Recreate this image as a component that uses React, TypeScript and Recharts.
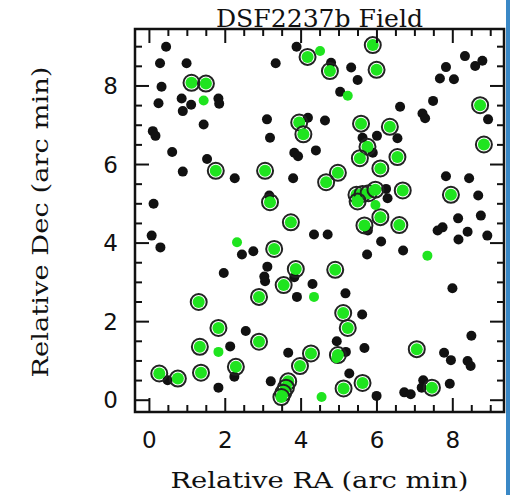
import { ScatterChart, Scatter, XAxis, YAxis, Label } from 'recharts';

const W = 510;
const H = 495;
const PLOT_TOP = 29;
const PLOT_RIGHT = 504;

const X_DOMAIN = [-0.38, 9.35];
const Y_DOMAIN = [-0.3, 9.45];
const xTicks = [0, 0.5, 1, 1.5, 2, 2.5, 3, 3.5, 4, 4.5, 5, 5.5, 6, 6.5, 7, 7.5, 8, 8.5, 9];
const yTicks = [0, 0.5, 1, 1.5, 2, 2.5, 3, 3.5, 4, 4.5, 5, 5.5, 6, 6.5, 7, 7.5, 8, 8.5, 9];
const majorTicks = [0, 2, 4, 6, 8];

const title = 'DSF2237b Field';
const xLabel = 'Relative RA (arc min)';
const yLabel = 'Relative Dec (arc min)';

// plain black sources
const blackDots = [
  [0.44, 9.0], [0.28, 8.58], [0.98, 8.58], [0.32, 7.98], [0.24, 7.56], [0.85, 7.68], [1.1, 7.52],
  [0.88, 7.36], [1.82, 7.68], [1.84, 7.55], [1.43, 7.02], [0.09, 6.85], [0.16, 6.73], [0.6, 6.32],
  [1.52, 6.14], [3.33, 8.58], [3.88, 9.0], [3.1, 7.15], [3.18, 6.68], [4.18, 7.19], [3.82, 6.3],
  [3.92, 6.21], [4.39, 6.36], [4.79, 8.59], [5.32, 8.47], [5.49, 8.15], [5.03, 7.85], [8.32, 8.76],
  [8.59, 8.51], [8.78, 8.64], [7.82, 8.48], [7.66, 8.19], [8.03, 8.17], [7.48, 7.62], [8.93, 7.15],
  [7.2, 7.3], [7.27, 7.18], [6.61, 7.47], [6.54, 6.67], [6.0, 6.73], [5.62, 6.68], [5.89, 6.3],
  [4.63, 7.12], [0.88, 5.82], [2.25, 5.65], [3.79, 5.65], [0.11, 5.0], [3.16, 5.21], [4.34, 4.22],
  [0.06, 4.19], [0.29, 3.89], [2.44, 3.71], [2.74, 3.79], [3.11, 3.4], [3.03, 3.15], [3.05, 3.03],
  [1.96, 3.24], [3.82, 3.13], [4.3, 2.96], [6.24, 5.38], [6.28, 5.14], [5.76, 4.32], [6.11, 4.04],
  [6.69, 3.81], [5.74, 3.71], [7.82, 5.7], [8.43, 5.65], [8.67, 5.21], [8.74, 4.7], [8.14, 4.63],
  [7.73, 4.4], [7.6, 4.32], [8.39, 4.29], [8.15, 4.09], [8.91, 4.19], [4.7, 4.22], [7.99, 2.85],
  [3.89, 2.63], [2.54, 1.76], [2.13, 1.37], [3.66, 1.21], [2.24, 0.6], [0.48, 0.51], [1.82, 0.32],
  [3.2, 0.48], [5.17, 2.72], [5.61, 2.18], [5.67, 1.33], [4.94, 1.5], [5.18, 1.23], [7.77, 1.21],
  [7.95, 1.02], [8.39, 1.0], [8.47, 0.87], [8.49, 1.64], [5.27, 0.68], [5.99, 0.11], [6.72, 0.2],
  [6.89, 0.15], [7.22, 0.51], [7.18, 0.32], [7.92, 0.42],
];

// green sources with black circle
const ringedDots = [
  [1.11, 8.08], [1.49, 8.06], [4.17, 8.74], [3.95, 7.07], [4.06, 6.77], [5.89, 9.04], [4.76, 8.38],
  [5.99, 8.41], [8.72, 7.51], [6.34, 6.96], [5.58, 7.04], [5.75, 6.45], [5.55, 6.16], [6.54, 6.19],
  [8.82, 6.51], [1.75, 5.84], [3.05, 5.84], [4.66, 5.55], [3.18, 5.04], [3.73, 4.53], [3.29, 3.85],
  [3.86, 3.34], [3.54, 2.93], [6.09, 5.9], [4.97, 5.79], [6.68, 5.34], [7.95, 5.23], [5.46, 5.23],
  [5.62, 5.25], [5.78, 5.27], [5.96, 5.36], [5.49, 5.06], [6.09, 4.66], [5.67, 4.45], [6.59, 4.46],
  [4.9, 3.32], [1.3, 2.5], [2.89, 2.63], [1.82, 1.84], [2.89, 1.49], [1.33, 1.36], [4.26, 1.19],
  [3.97, 0.87], [2.28, 0.85], [1.36, 0.7], [0.26, 0.68], [0.75, 0.55], [3.66, 0.48], [3.6, 0.32],
  [3.53, 0.19], [3.48, 0.08], [5.11, 2.22], [5.23, 1.84], [4.97, 1.15], [7.05, 1.3], [5.62, 0.44],
  [5.12, 0.3], [7.45, 0.32],
];

// green sources without circle
const greenDots = [
  [1.43, 7.63], [4.5, 8.89], [5.23, 7.75], [2.31, 4.02], [5.96, 4.97], [7.33, 3.68], [4.34, 2.63],
  [1.82, 1.23], [4.54, 0.08], [4.93, 1.07],
];

const toPoints = (list: number[][]) => list.map(([x, y]) => ({ x, y }));

const GREEN = '#1fe41f';
const INK = '#111';

const BlackDot = (p: any) => <circle cx={p.cx} cy={p.cy} r={5} fill={INK} />;
const GreenDot = (p: any) => <circle cx={p.cx} cy={p.cy} r={5} fill={GREEN} />;
const RingedDot = (p: any) => (
  <g>
    <circle cx={p.cx} cy={p.cy} r={8} fill="none" stroke="#222" strokeWidth={2} />
    <circle cx={p.cx} cy={p.cy} r={6} fill={GREEN} />
  </g>
);

// inward ticks on both opposite sides of the box, labels only on bottom/left
function XTick(props: any) {
  const { x, y, payload } = props;
  const major = majorTicks.includes(payload.value);
  const len = major ? 14 : 7;
  return (
    <g>
      <line x1={x} y1={y} x2={x} y2={y - len} stroke={INK} strokeWidth={2} />
      <line x1={x} y1={PLOT_TOP} x2={x} y2={PLOT_TOP + len} stroke={INK} strokeWidth={2} />
      {major && (
        <text x={x} y={y + 36} textAnchor="middle" fontFamily="DejaVu Sans" fontSize={23} fill={INK}>
          {payload.value}
        </text>
      )}
    </g>
  );
}

function YTick(props: any) {
  const { x, y, payload } = props;
  const major = majorTicks.includes(payload.value);
  const len = major ? 14 : 7;
  return (
    <g>
      <line x1={x} y1={y} x2={x + len} y2={y} stroke={INK} strokeWidth={2} />
      <line x1={PLOT_RIGHT} y1={y} x2={PLOT_RIGHT - len} y2={y} stroke={INK} strokeWidth={2} />
      {major && (
        <text x={x - 17} y={y + 8} textAnchor="end" fontFamily="DejaVu Sans" fontSize={23} fill={INK}>
          {payload.value}
        </text>
      )}
    </g>
  );
}

export default function App() {
  return (
    <div style={{ position: 'relative', width: W, height: H, background: '#fff' }}>
      <style>{'body{margin:0}'}</style>
      <ScatterChart width={W} height={H} margin={{ top: PLOT_TOP, right: W - PLOT_RIGHT, bottom: 0, left: 0 }}>
        <XAxis
          xAxisId="b"
          type="number"
          dataKey="x"
          domain={X_DOMAIN}
          allowDataOverflow
          ticks={xTicks}
          interval={0}
          height={83}
          tickSize={0}
          tickMargin={0}
          tickLine={false}
          axisLine={false}
          tick={XTick}
        >
          <Label
            content={(lp: any) => {
              const vb = lp.viewBox || { x: 135, y: 412, width: 369 };
              return (
                <g>
                  <rect x={vb.x} y={PLOT_TOP} width={vb.width} height={vb.y - PLOT_TOP}
                    fill="none" stroke={INK} strokeWidth={2.5} />
                  <text x={vb.x + vb.width / 2} y={488} textAnchor="middle" fontFamily="DejaVu Serif" fontSize={22}
                    textLength={298} lengthAdjust="spacingAndGlyphs" fill={INK}>
                    {xLabel}
                  </text>
                  <text x={vb.x + vb.width / 2} y={27} textAnchor="middle" fontFamily="DejaVu Serif" fontSize={24}
                    textLength={207} lengthAdjust="spacingAndGlyphs" fill={INK}>
                    {title}
                  </text>
                </g>
              );
            }}
          />
        </XAxis>
        <YAxis
          yAxisId="l"
          type="number"
          dataKey="y"
          domain={Y_DOMAIN}
          allowDataOverflow
          ticks={yTicks}
          interval={0}
          width={135}
          tickSize={0}
          tickMargin={0}
          tickLine={false}
          axisLine={false}
          tick={YTick}
        >
          <Label
            content={() => (
              <text x={40} y={222} transform="rotate(-90, 40, 222)" textAnchor="middle"
                dominantBaseline="central" fontFamily="DejaVu Serif" fontSize={22}
                textLength={311} lengthAdjust="spacingAndGlyphs" fill={INK}>
                {yLabel}
              </text>
            )}
          />
        </YAxis>
        <Scatter data={toPoints(blackDots)} xAxisId="b" yAxisId="l" shape={BlackDot} isAnimationActive={false} />
        <Scatter data={toPoints(ringedDots)} xAxisId="b" yAxisId="l" shape={RingedDot} isAnimationActive={false} />
        <Scatter data={toPoints(greenDots)} xAxisId="b" yAxisId="l" shape={GreenDot} isAnimationActive={false} />
      </ScatterChart>
      <div style={{ position: 'absolute', left: 506, top: 0, width: 4, height: H, background: '#3a88c6' }} />
    </div>
  );
}
